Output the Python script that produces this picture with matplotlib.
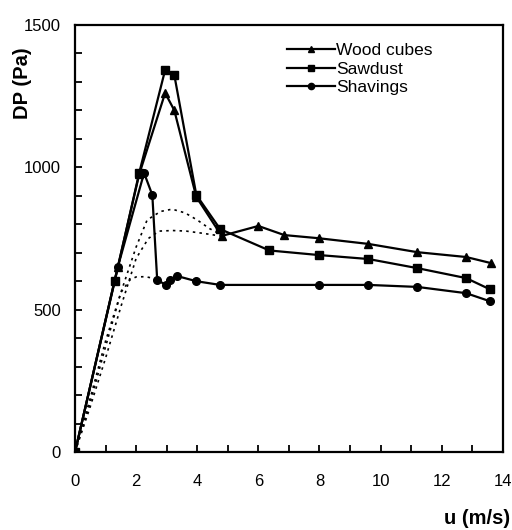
import matplotlib
matplotlib.use("Agg")
import matplotlib.pyplot as plt
from matplotlib.ticker import MultipleLocator

plt.rcParams['font.family'] = ['Liberation Sans', 'DejaVu Sans']

# Daten
wood_u = [0, 1.4, 2.1, 2.95, 3.25, 3.97, 4.8, 6.0, 6.85, 7.97, 9.6, 11.2, 12.8, 13.6]
wood_dp = [0, 650, 975, 1261, 1200, 896, 759, 794, 762, 751, 731, 702, 685, 664]

saw_u = [0, 1.3, 2.1, 2.95, 3.25, 3.97, 4.75, 6.36, 7.97, 9.6, 11.2, 12.8, 13.57]
saw_dp = [0, 600, 980, 1342, 1324, 903, 783, 708, 692, 678, 646, 611, 572]

shav_u = [0, 1.4, 2.26, 2.53, 2.69, 2.98, 3.11, 3.35, 3.97, 4.75, 7.97, 9.6, 11.2, 12.8, 13.57]
shav_dp = [0, 650, 980, 903, 604, 587, 604, 618, 600, 587, 587, 587, 580, 558, 530]

# gepunktete Kurven
dot1_u = [0, 0.5, 1.0, 1.5, 2.0, 2.36, 2.8, 3.18, 3.6, 4.0, 4.4, 4.75]
dot1_dp = [0, 175, 370, 560, 720, 815, 845, 853, 840, 815, 785, 765]
dot2_u = [0, 0.5, 1.0, 1.5, 2.0, 2.4, 2.75, 3.2, 3.64, 4.2, 4.75]
dot2_dp = [0, 160, 330, 510, 680, 750, 776, 778, 776, 768, 759]
dot3_u = [0, 0.5, 1.0, 1.5, 1.8, 2.0, 2.3, 2.53, 2.69]
dot3_dp = [0, 190, 390, 560, 605, 615, 616, 611, 604]

fig = plt.figure(figsize=(5.12, 5.30), dpi=100)
ax = fig.add_axes([0.1465, 0.147, 0.8355, 0.806])

# ===== PLOTTEN =====
for u, dp in [(dot1_u, dot1_dp), (dot2_u, dot2_dp), (dot3_u, dot3_dp)]:
    ax.plot(u, dp, color="black", linestyle=(0, (1.5, 2.5)), linewidth=1.2)

ax.plot(wood_u, wood_dp, color="black", linewidth=1.6, marker="^", markersize=6, label="Wood cubes")
ax.plot(saw_u, saw_dp, color="black", linewidth=1.6, marker="s", markersize=5.5, label="Sawdust")
ax.plot(shav_u, shav_dp, color="black", linewidth=1.6, marker="o", markersize=5.5, label="Shavings")

# ===== ACHSEN =====
ax.set_xlim(0, 14)
ax.set_ylim(0, 1500)
ax.xaxis.set_major_locator(MultipleLocator(2))
ax.xaxis.set_minor_locator(MultipleLocator(1))
ax.yaxis.set_major_locator(MultipleLocator(500))
ax.yaxis.set_minor_locator(MultipleLocator(100))
ax.tick_params(which="both", direction="in", length=5, width=1.3, labelsize=12)
ax.tick_params(axis="x", pad=16)
ax.tick_params(axis="y", pad=10)
for s in ax.spines.values():
    s.set_linewidth(1.6)

fig.text(0.043, 0.843, "DP (Pa)", rotation=90, fontsize=14.5, fontweight="bold", ha="center", va="center")
fig.text(0.996, 0.022, "u (m/s)", fontsize=14.5, fontweight="bold", ha="right", va="center")

leg = ax.legend(loc="upper left", bbox_to_anchor=(0.495, 0.958), frameon=False, fontsize=12.5,
                handlelength=2.75, handletextpad=0.1, labelspacing=0.2, borderpad=0, borderaxespad=0)
for h in leg.legend_handles:
    h.set_markersize(4.5)

fig.savefig("out.png", dpi=100)
plt.close(fig)
